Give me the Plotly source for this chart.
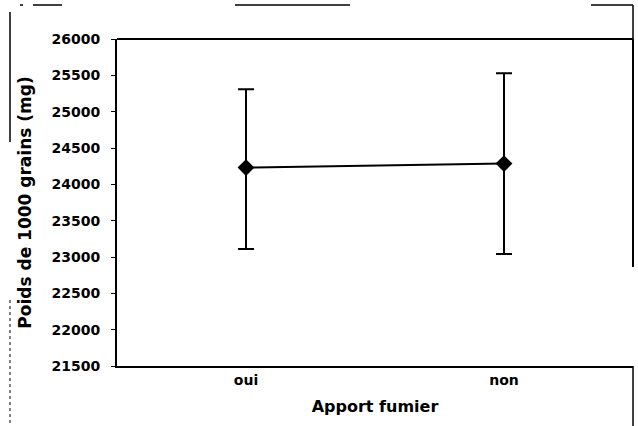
import plotly.graph_objects as go

categories = ["oui", "non"]
means = [24230, 24285]
upper = [25310, 25530]
lower = [23110, 23040]

err_plus = [u - m for u, m in zip(upper, means)]
err_minus = [m - l for m, l in zip(means, lower)]

W, H = 638, 426
L, R, T, B = 117, 633, 39, 366


def px(x):
    return (x - L) / (R - L)


def py(y):
    return (B - y) / (B - T)


fig = go.Figure()
fig.add_trace(go.Scatter(
    x=categories, y=means, mode="lines+markers",
    line=dict(color="black", width=2),
    marker=dict(symbol="diamond", size=13, color="black"),
    error_y=dict(type="data", symmetric=False, array=err_plus, arrayminus=err_minus,
                 color="black", thickness=2, width=8),
    showlegend=False,
))

shapes = []
line_k = dict(color="black", width=2)
# plot frame
shapes.append(dict(type="line", xref="paper", yref="paper", x0=0, x1=1, y0=1, y1=1, line=line_k))
shapes.append(dict(type="line", xref="paper", yref="paper", x0=1, x1=1, y0=1, y1=py(267), line=line_k))
shapes.append(dict(type="line", xref="paper", yref="paper", x0=1, x1=1, y0=0, y1=py(426), line=dict(color="black", width=1.5)))
# outer scan-frame fragments
thin = dict(color="black", width=1.5)
shapes.append(dict(type="line", xref="paper", yref="paper", x0=px(33), x1=px(62), y0=py(5), y1=py(5), line=thin))
shapes.append(dict(type="line", xref="paper", yref="paper", x0=px(20), x1=px(23), y0=py(5), y1=py(5), line=thin))
shapes.append(dict(type="line", xref="paper", yref="paper", x0=px(235), x1=px(350), y0=py(5), y1=py(5), line=thin))
shapes.append(dict(type="line", xref="paper", yref="paper", x0=px(591), x1=px(633), y0=py(5), y1=py(5), line=thin))
shapes.append(dict(type="line", xref="paper", yref="paper", x0=1, x1=1, y0=py(5), y1=1, line=thin))
shapes.append(dict(type="line", xref="paper", yref="paper", x0=px(10), x1=px(10), y0=py(12), y1=py(142), line=thin))
shapes.append(dict(type="line", xref="paper", yref="paper", x0=px(10), x1=px(10), y0=py(300), y1=py(426),
                   line=dict(color="black", width=1, dash="dot")))

fig.update_layout(
    width=W, height=H,
    margin=dict(l=L, r=W - R, t=T, b=H - B, autoexpand=False),
    paper_bgcolor="white", plot_bgcolor="white",
    font=dict(family="DejaVu Sans", color="black"),
    shapes=shapes,
    xaxis=dict(
        type="category", range=[-0.5, 1.5],
        showline=True, linecolor="black", linewidth=2,
        ticks="", showgrid=False, zeroline=False,
        tickfont=dict(size=14, family="DejaVu Sans", weight="bold"),
        automargin=False,
        title=dict(text="Apport fumier", font=dict(size=16, family="DejaVu Sans", weight="bold"), standoff=14),
    ),
    yaxis=dict(
        range=[21500, 26000], tickmode="linear", tick0=21500, dtick=500,
        showline=True, linecolor="black", linewidth=2,
        ticks="outside", ticklen=4, tickcolor="black", tickwidth=1,
        ticklabelstandoff=8,
        showgrid=False, zeroline=False,
        tickformat="d", automargin=False,
        tickfont=dict(size=14, family="DejaVu Sans", weight="bold"),
        title=dict(text="Poids de 1000 grains (mg)", font=dict(size=17, family="DejaVu Sans", weight="bold"), standoff=16),
    ),
)

fig.write_html("out.html", config={"displayModeBar": False},
               post_script="document.body.style.margin='0';document.body.style.overflow='hidden';")
